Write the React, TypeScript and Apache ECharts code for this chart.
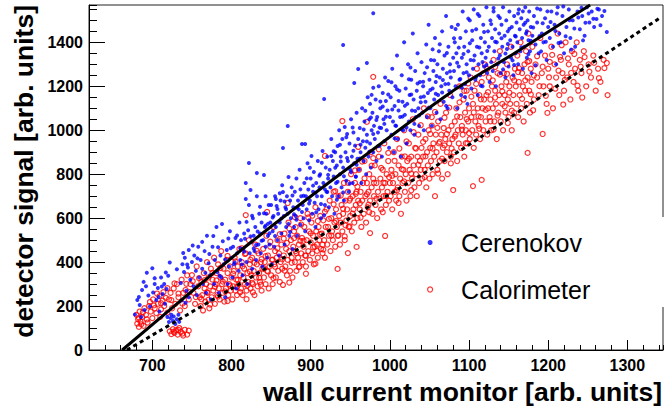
import React, { useEffect, useRef } from 'react';
import * as echarts from 'echarts';

// Cerenokov (blue, filled dots): [wall current monitor, detector signal]
const cerenokov: number[][] = [
  [678,162],[681,228],[683,241],[684,205],[686,150],[687,273],[689,310],[690,182],[692,290],[693,352],[695,248],[697,198],[700,372],[701,262],[703,300],[705,228],[707,282],[709,175],[711,330],[713,255],[715,300],[716,210],[718,278],[719,150],[720,338],
  [721,127],[723,145],[724,160],[726,132],[727,152],[729,118],[731,140],[733,160],[734,128],[736,305],[738,390],[740,355],[741,420],[743,270],[745,375],[746,455],[748,320],[750,400],[752,290],[753,430],[755,360],[756,250],[758,470],[759,330],[737,225],[742,215],[746,240],
  [761,410],[763,370],[764,300],[766,450],[768,260],[769,520],[771,395],[773,340],[774,230],[776,470],[778,300],[779,410],[781,560],[782,355],[784,260],[786,430],[787,330],[789,495],[790,390],[792,240],[794,455],[795,300],[797,380],[798,540],[800,420],
  [801,330],[802,470],[803,390],[805,510],[806,280],[807,440],[809,360],[810,580],[811,410],[812,500],[814,340],[815,460],[816,530],[818,687],[818,760],[819,400],[820,300],[821,545],[822,660],[822,851],[823,440],[824,728],[825,490],[826,370],[827,600],[828,520],[829,450],[830,560],[831,410],[832,700],[832,805],[833,350],[834,480],[835,620],[836,530],[837,440],[838,580],[839,380],[840,500],[841,796],[843,700],[843,470],
  [842,560],[844,620],[845,420],[846,520],[847,660],[848,480],[849,580],[850,660],[851,390],[852,540],[853,610],[854,470],[855,700],[856,560],[857,655],[858,500],[859,620],[860,430],[861,580],[862,680],[863,530],[864,750],[865,919],[865,719],[866,610],[867,480],[868,650],[869,560],[870,700],[871,1019],[871,620],[872,787],[873,520],[874,680],[875,600],[876,740],[877,460],[878,650],[879,560],[880,720],
  [881,610],[882,780],[883,520],[884,680],[885,640],[886,820],[887,570],[888,700],[889,937],[890,660],[891,600],[892,760],[893,937],[893,540],[894,700],[895,640],[896,850],[897,730],[898,590],[899,680],[900,780],[901,883],[902,620],[903,720],[904,810],[905,670],[906,560],[907,760],[908,700],[909,860],[910,640],[911,740],[912,800],[913,600],[914,700],[915,906],[916,760],[917,1142],[918,660],[919,830],[920,720],
  [921,880],[922,780],[923,650],[924,820],[925,740],[926,960],[927,700],[928,860],[929,790],[930,620],[931,900],[932,760],[933,840],[934,928],[935,700],[936,1000],[937,800],[938,880],[939,740],[940,960],[941,1388],[941,830],[942,680],[943,1015],[944,900],[945,770],[946,983],[947,860],[948,720],[949,940],[950,820],[951,1050],[952,880],[953,760],[954,990],[955,1215],[955,850],[956,930],[957,790],[958,1080],[959,870],[960,1279],[960,960],
  [961,820],[962,1010],[963,900],[964,760],[965,1100],[966,950],[967,860],[968,1040],[969,920],[970,800],[971,1306],[971,980],[972,1150],[973,880],[974,1050],[975,1120],[975,940],[976,830],[977,1000],[978,1080],[979,1532],[979,1193],[979,900],[980,1020],[981,960],[982,1140],[983,860],[984,1060],[985,990],[986,1200],[987,930],[988,1100],[989,1010],[990,880],[991,1170],[992,1050],[993,950],[994,1240],[995,1133],[996,1000],[997,1090],[998,1224],[999,920],[1000,1060],
  [1001,1150],[1002,980],[1003,1280],[1004,1040],[1005,900],[1006,1110],[1007,1200],[1008,1020],[1009,1340],[1010,960],[1011,1090],[1012,1180],[1013,1060],[1014,880],[1015,1250],[1016,1130],[1017,1000],[1018,1400],[1019,1070],[1020,1190],[1021,940],[1022,1120],[1023,1300],[1024,1040],[1025,1160],[1026,1000],[1027,1230],[1028,1090],[1029,1440],[1030,1140],[1031,980],[1032,1270],[1033,1060],[1034,1180],[1035,1350],[1036,1100],[1037,1020],[1038,1220],[1039,1150],[1040,1310],
  [1041,1080],[1042,1200],[1043,1000],[1044,1260],[1045,1130],[1046,1390],[1047,1060],[1048,1170],[1049,1480],[1050,1230],[1051,1100],[1052,1320],[1053,1020],[1053,491],[1054,1190],[1055,1270],[1056,1140],[1057,1420],[1058,1220],[1059,1080],[1060,1300],[1061,1160],[1062,1360],[1063,1240],[1064,1050],[1065,1200],[1066,1450],[1067,1280],[1068,1130],[1069,1340],[1070,1210],[1071,1520],[1072,1260],[1073,1100],[1074,1380],[1075,1180],[1076,1300],[1077,1240],[1078,1470],[1079,1150],[1080,1330],
  [1081,1270],[1082,1400],[1083,1200],[1084,1350],[1085,1100],[1086,1480],[1087,1290],[1088,1230],[1089,1420],[1090,1160],[1091,1330],[1092,1540],[1093,1260],[1094,1380],[1095,1210],[1096,1450],[1097,1300],[1098,1120],[1099,1360],[1100,1250],[1101,1500],[1102,1320],[1103,1190],[1104,1410],[1105,1280],[1106,1550],[1107,1340],[1108,1230],[1109,1460],[1110,1380],[1111,1160],[1112,1300],[1113,1520],[1114,1250],[1115,1420],[1116,1350],[1117,1200],[1118,1480],[1119,1290],[1120,1400],
  [1121,1330],[1122,1560],[1123,1260],[1124,1450],[1125,1380],[1126,1220],[1127,1500],[1128,1310],[1129,1420],[1130,1270],[1131,1540],[1132,1360],[1133,1460],[1134,1200],[1135,1400],[1136,1300],[1137,1520],[1138,1440],[1139,1340],[1140,1260],[1141,1480],[1142,1380],[1143,1560],[1144,1310],[1145,1430],[1146,1240],[1147,1500],[1148,1370],[1149,1450],[1150,1290],[1151,1540],[1152,1410],[1153,1330],[1154,1470],[1155,1380],[1156,1250],[1157,1520],[1158,1430],[1159,1350],[1160,1490],
  [1161,1400],[1162,1300],[1163,1550],[1164,1460],[1165,1360],[1166,1510],[1167,1420],[1168,1280],[1169,1480],[1170,1380],[1171,1560],[1172,1440],[1173,1330],[1174,1500],[1175,1410],[1176,1540],[1177,1360],[1178,1470],[1179,1260],[1180,1430],[1182,1520],[1184,1390],[1186,1490],[1188,1350],[1190,1550],[1192,1440],[1194,1400],[1196,1510],[1198,1320],[1200,1470],
  [1202,1420],[1204,1540],[1206,1380],[1208,1480],[1210,1300],[1212,1560],[1214,1440],[1216,1400],[1218,1520],[1220,1350],[1223,1470],[1226,1550],[1228,1420],[1231,1500],[1234,1380],[1237,1540],[1240,1460],[1243,1520],[1246,1430],[1249,1560],[1252,1490],[1255,1540],[1258,1470],[1261,1506],[1264,1550],[1268,1520],[1274,1447],
  [804,398],[811,463],[807,521],[816,447],[813,389],[824,517],[819,583],[828,462],[833,539],[826,611],[838,497],[843,566],[836,652],[848,531],[852,603],[846,574],[858,642],[855,519],[863,598],[867,676],[861,713],[872,574],[869,641],[877,703],[874,537],[879,618],[856,687],[841,622],[831,478],[817,506],
  [883,647],[887,731],[882,593],[891,702],[895,781],[889,628],[898,667],[903,748],[899,829],[907,627],[911,793],[906,716],[914,852],[918,731],[913,664],[922,797],[926,883],[921,719],[931,829],[934,766],[929,904],[938,858],[942,791],[937,934],[946,874],[951,809],[945,968],[954,907],[958,843],[953,1013],[917,613],[933,684],[949,757],[957,788],[941,717],
  [963,934],[967,1003],[962,871],[971,949],[976,1058],[969,1089],[979,983],[983,1047],[977,1161],[987,1012],[991,1108],[985,927],[995,1061],[998,1163],[993,1029],[1003,1094],[1007,1021],[1002,1218],[1011,1133],[1016,1062],[1009,1187],[1019,1111],[1024,1232],[1015,1004],[1027,1163],[1032,1088],[1026,1286],[1035,1213],[1039,1127],[1031,1029],[974,902],[988,1131],[1006,963],[1021,1013],[1037,1067],
  [1043,1154],[1047,1287],[1042,1221],[1051,1183],[1056,1318],[1049,1103],[1059,1247],[1063,1391],[1058,1166],[1067,1229],[1072,1352],[1066,1172],[1076,1268],[1081,1419],[1074,1211],[1085,1307],[1089,1233],[1083,1461],[1093,1347],[1097,1264],[1091,1193],[1101,1396],[1106,1318],[1099,1508],[1109,1242],[1113,1377],[1104,1453],[1117,1311],[1111,1529],[1119,1447],[1054,1368],[1071,1111],[1087,1376],[1095,1151],[1115,1203],
  [1123,1361],[1128,1483],[1122,1297],[1133,1403],[1137,1327],[1131,1556],[1141,1419],[1146,1349],[1139,1511],[1151,1462],[1155,1318],[1149,1393],[1162,1531],[1159,1427],[1166,1378],[1171,1489],[1168,1541],[1175,1346],[1181,1468],[1178,1407],[1186,1554],[1189,1429],[1184,1296],[1193,1487],[1197,1403],[1143,1277],[1157,1297],[1173,1451],[1191,1359],[1199,1541],
  [1203,1493],[1209,1452],[1213,1397],[1219,1563],[1222,1428],[1227,1501],[1233,1463],[1238,1513],[1242,1558],[1247,1489],[1251,1531],[1257,1507],[1262,1553],[1266,1478],[1271,1543],[1211,1531],[1229,1367],[1244,1409],
  [703,327],[712,289],[708,241],[717,353],[722,398],[731,367],[739,441],[744,389],[751,476],[757,417],[763,492],[767,351],[772,437],[777,519],[783,468],[788,573],[792,412],[796,507],[799,463],[785,338]
];

// Calorimeter (red, open circles)
const calorimeter: number[][] = [
  [680,160],[681,120],[682,140],[683,105],[684,175],[685,130],[687,150],[689,110],[690,190],[692,160],[694,125],[696,200],[698,175],[700,145],[701,230],[703,190],[705,168],[707,210],[709,245],[711,185],[713,225],[715,200],[717,237],[719,170],
  [722,85],[724,72],[726,95],[728,78],[730,90],[732,70],[734,100],[736,82],[738,75],[741,92],[744,70],[746,88],
  [721,230],[723,260],[725,190],[727,280],[729,210],[731,300],[733,240],[735,180],[737,320],[739,260],[741,200],[742,273],[744,340],[746,230],[748,300],[750,341],[752,260],[754,210],[756,380],[758,290],[760,240],
  [761,200],[762,310],[763,250],[764,180],[765,350],[766,280],[767,220],[768,300],[769,400],[770,260],[771,330],[772,190],[773,290],[774,370],[775,240],[776,320],[777,270],[778,420],[779,210],[780,300],[781,350],[782,250],[783,390],[784,280],[785,230],[786,330],[787,450],[788,300],[789,260],[790,370],[791,220],[792,320],[793,280],[794,410],[795,350],[796,250],[797,300],[798,380],[799,270],[800,330],
  [801,230],[802,290],[803,360],[804,420],[805,270],[806,320],[807,250],[808,380],[809,300],[810,460],[811,340],[812,280],[813,400],[814,250],[815,330],[816,370],[817,300],[818,614],[818,440],[819,270],[820,350],[821,310],[822,500],[823,390],[824,280],[825,340],[826,420],[827,300],[828,360],[829,250],[830,480],[831,330],[832,390],[833,290],[834,440],[835,350],[836,310],[837,400],[838,270],[839,370],[840,460],
  [841,330],[842,400],[843,300],[844,520],[845,360],[845,628],[846,430],[847,280],[848,380],[849,470],[850,340],[851,410],[852,300],[853,560],[854,390],[855,450],[856,330],[857,420],[858,500],[859,360],[860,440],[861,310],[862,400],[863,480],[864,370],[865,296],[866,430],[867,530],[868,380],[869,460],[870,340],[871,410],[871,669],[872,580],[873,450],[874,360],[875,500],[876,420],[877,330],[878,470],[879,540],[880,400],[880,605],
  [881,450],[882,360],[883,520],[884,420],[885,480],[886,380],[887,600],[888,440],[889,510],[890,400],[891,470],[892,560],[893,430],[894,380],[895,500],[896,620],[897,450],[898,540],[899,410],[900,490],[901,580],[902,440],[903,520],[904,390],[905,470],[906,650],[907,540],[908,480],[909,420],[910,560],[911,500],[912,610],[913,460],[914,530],[915,440],[916,590],[917,500],[918,883],[918,420],[919,560],[920,640],
  [921,480],[922,560],[923,520],[924,680],[925,450],[926,600],[927,540],[928,500],[929,720],[930,580],[931,470],[932,640],[933,560],[934,369],[934,520],[935,700],[936,610],[937,480],[938,580],[939,660],[940,1042],[940,540],[941,620],[942,760],[943,500],[944,680],[945,590],[946,640],[947,441],[947,720],[948,560],[949,680],[950,610],[951,800],[952,540],[953,700],[954,640],[955,580],[956,760],[957,660],[958,469],[958,720],[959,600],[960,680],[960,924],
  [961,820],[962,640],[963,720],[964,560],[965,680],[966,760],[967,620],[968,860],[969,700],[970,580],[971,1038],[971,760],[972,650],[973,720],[974,800],[975,532],[975,680],[976,900],[977,740],[978,620],[979,1243],[979,780],[980,700],[981,840],[982,660],[983,760],[984,600],[985,720],[986,880],[987,690],[988,780],[989,640],[990,740],[991,820],[992,700],[993,940],[994,519],[994,760],[995,660],[996,800],[997,720],[998,860],[999,680],[1000,760],
  [1001,700],[1002,820],[1003,640],[1004,760],[1005,900],[1006,720],[1007,800],[1008,680],[1009,960],[1010,740],[1011,840],[1012,700],[1013,780],[1014,620],[1015,880],[1016,760],[1017,820],[1018,1000],[1019,720],[1020,800],[1021,680],[1022,860],[1023,760],[1024,940],[1025,820],[1026,700],[1027,880],[1028,780],[1029,1050],[1030,840],[1031,740],[1032,920],[1033,800],[1034,700],[1035,880],[1036,980],[1037,760],[1038,860],[1039,820],[1040,920],
  [1041,780],[1042,880],[1043,1100],[1044,820],[1045,960],[1046,740],[1047,900],[1048,840],[1049,1000],[1050,780],[1051,920],[1052,860],[1053,1060],[1054,800],[1055,940],[1056,880],[1057,700],[1058,980],[1059,900],[1060,820],[1061,1040],[1062,940],[1063,860],[1064,1120],[1065,980],[1066,780],[1067,920],[1068,1010],[1069,860],[1070,960],[1071,1080],[1072,900],[1073,800],[1074,1000],[1075,940],[1076,1160],[1077,880],[1078,1020],[1079,960],[1080,728],
  [1081,900],[1082,1040],[1083,980],[1084,1100],[1085,860],[1086,1000],[1087,940],[1088,1200],[1089,1060],[1090,920],[1091,1020],[1092,980],[1093,1140],[1094,880],[1095,1080],[1096,1000],[1097,1180],[1098,940],[1099,1040],[1100,1100],[1101,960],[1102,1240],[1103,1060],[1104,1000],[1105,746],[1105,1120],[1106,920],[1107,1180],[1108,1040],[1109,980],[1110,1280],[1111,1100],[1112,1020],[1113,1160],[1114,960],[1115,1060],[1116,774],[1116,1220],[1117,1100],[1118,1000],[1119,1140],[1120,1300],
  [1121,1040],[1122,1160],[1123,980],[1124,1100],[1125,1240],[1126,1060],[1127,1140],[1128,1000],[1129,1200],[1130,1100],[1131,1320],[1132,1040],[1133,1180],[1133,1288],[1134,1120],[1135,960],[1136,1260],[1137,1080],[1138,1160],[1139,1360],[1140,1040],[1141,1200],[1142,1120],[1143,1000],[1144,1260],[1145,1160],[1146,1080],[1147,1220],[1148,1300],[1149,1140],[1150,1060],[1151,1200],[1152,1120],[1153,1380],[1154,1000],[1155,1240],[1156,1160],[1157,1080],[1158,1280],[1159,1200],[1160,1120],
  [1161,1340],[1162,1060],[1162,1265],[1163,1220],[1164,1160],[1165,1400],[1166,1100],[1167,1260],[1168,1200],[1169,1040],[1170,1300],[1171,1180],[1172,1360],[1173,1120],[1174,897],[1174,1240],[1175,1440],[1176,1180],[1176,1315],[1177,1080],[1178,1280],[1179,1220],[1180,1380],[1182,1140],[1184,1300],[1186,1240],[1188,1160],[1190,1420],[1192,1260],[1193,983],[1194,1200],[1196,1340],[1198,1120],[1200,1280],
  [1202,1200],[1202,1311],[1204,1380],[1206,1100],[1208,1300],[1210,1240],[1212,1440],[1214,1160],[1215,1334],[1216,1320],[1218,1260],[1220,1180],[1222,1400],[1224,1240],[1226,1300],[1228,1140],[1230,1360],[1232,1220],[1234,1280],[1236,1400],[1238,1180],[1240,1320],[1242,1260],[1245,1360],[1248,1200],[1251,1300],[1254,1240],[1257,1340],[1260,1180],[1263,1280],[1266,1220],[1270,1320],[1274,1306],[1275,1160],
  [762,231],[766,318],[769,263],[773,207],[776,351],[779,287],[783,243],[786,373],[789,311],[792,267],[795,428],[798,293],[802,347],[805,403],[808,319],[811,263],[814,381],[817,437],[820,293],[823,357],[826,306],[829,397],[832,451],[835,329],[838,413],[841,372],[819,231],[807,287],[795,223],[781,317],[771,229],[813,463],[827,263],[837,297],[824,411],
  [843,427],[846,357],[849,493],[852,411],[855,379],[858,463],[861,527],[864,413],[867,361],[870,487],[873,553],[876,397],[879,509],[882,441],[885,377],[888,571],[891,497],[894,429],[897,603],[900,531],[903,467],[906,393],[909,587],[912,527],[915,479],[918,629],[853,327],[866,507],[881,559],[894,347],[908,451],[873,307],[887,497],[902,611],[916,457],
  [923,597],[926,521],[929,663],[932,587],[935,521],[938,703],[941,643],[944,567],[947,761],[950,689],[953,621],[956,817],[959,743],[962,667],[965,857],[968,781],[971,709],[974,627],[977,839],[980,761],[983,689],[986,913],[989,829],[992,761],[995,701],[998,897],[931,723],[949,563],[963,603],[979,873],[991,627],[999,787],[943,517],[957,711],[973,661],
  [1003,793],[1006,861],[1009,727],[1012,917],[1015,823],[1018,767],[1021,949],[1024,871],[1027,803],[1030,991],[1033,917],[1036,843],[1039,1023],[1042,947],[1045,881],[1048,1063],[1051,983],[1054,917],[1057,1083],[1060,1011],[1063,947],[1066,871],[1069,1057],[1072,983],[1075,1103],[1078,917],[1011,669],[1027,727],[1044,787],[1061,803],[1077,849],[1019,881],[1053,1021],[1069,931],
  [1082,971],[1085,1063],[1088,1127],[1091,1003],[1094,1179],[1097,1051],[1100,987],[1103,1153],[1106,1081],[1109,1211],[1112,1063],[1115,1141],[1118,1259],[1121,1093],[1124,1173],[1127,1041],[1130,1227],[1133,1149],[1136,1067],[1139,1253],[1142,1177],[1145,1109],[1148,1257],[1151,1171],[1154,1089],[1157,1227],[1096,941],[1113,1007],[1131,1003],[1149,1033],[1099,1213],[1123,1279],
  [1163,1283],[1167,1143],[1171,1227],[1174,1311],[1178,1163],[1182,1249],[1186,1337],[1189,1201],[1193,1289],[1197,1157],[1201,1241],[1205,1343],[1209,1189],[1213,1271],[1217,1387],[1221,1229],[1225,1327],[1229,1261],[1233,1347],[1237,1203],[1241,1289],[1246,1333],[1252,1267],[1258,1307],[1264,1237],[1271,1283],[1181,1091],[1199,1079],[1219,1117],[1243,1149],
  [683,147],[688,171],[693,139],[697,219],[702,203],[706,257],[711,213],[714,263],[719,281],[724,227],[728,303],[733,257],[738,211],[743,301],[747,263],[751,313],[755,241],[759,327],[727,83],[733,91],[739,66],[686,117],[710,151]
];

// Fit curves
const cerenokovFit: number[][] = [[662,0],[760,298],[823,486],[950,835],[1076,1170],[1158,1352],[1253,1570]];
const calorimeterFit: number[][] = [[668,0],[823,328],[950,601],[1076,878],[1215,1210],[1341,1511]];

const xRange = [620, 1345];
const yRange = [0, 1570];
const seriesNames = ['Cerenokov', 'Calorimeter'];
const xTitle = 'wall current monitor [arb. units]';
const yTitle = 'detector signal [arb. units]';

export default function App() {
  const ref = useRef<HTMLDivElement>(null);
  useEffect(() => {
    document.body.style.margin = '0';
    const chart = echarts.init(ref.current!, null, { renderer: 'svg', width: 665, height: 409 });
    const font = '"Liberation Sans", Arial, Helvetica, sans-serif';
    const plain = (v: number) => String(v);
    const axisCommon = {
      type: 'value',
      splitLine: { show: false },
    };
    chart.setOption({
      animation: false,
      backgroundColor: '#ffffff',
      textStyle: { fontFamily: font },
      grid: {
        left: 89, top: 5, right: 2, bottom: 59, containLabel: false, outerBoundsMode: 'none',
        show: true, borderColor: '#222', borderWidth: 1, backgroundColor: 'transparent',
      },
      graphic: [
        {
          type: 'text', right: 3, top: 378, z: 10,
          style: { text: xTitle, fill: '#000', font: 'bold 26.5px "Liberation Sans", Arial, Helvetica, sans-serif' },
        },
      ],
      xAxis: [
        {
          ...axisCommon,
          min: xRange[0], max: xRange[1], minInterval: 100, maxInterval: 100, position: 'bottom',
          axisLine: { show: true, lineStyle: { color: '#000', width: 1 } },
          axisTick: { show: true, inside: true, length: 10, lineStyle: { color: '#000', width: 1 } },
          axisLabel: { show: true, showMinLabel: false, showMaxLabel: false, hideOverlap: false, formatter: plain, color: '#000', fontSize: 16, fontWeight: 'bold', fontFamily: font, margin: 7 },
        },
        {
          ...axisCommon,
          min: xRange[0], max: xRange[1], interval: 20, position: 'bottom',
          axisLine: { show: false }, axisLabel: { show: false },
          axisTick: { show: true, inside: true, length: 5, lineStyle: { color: '#000', width: 1 } },
        },
      ],
      yAxis: [
        {
          ...axisCommon,
          min: yRange[0], max: yRange[1], interval: 200, position: 'left',
          axisLine: { show: true, lineStyle: { color: '#000', width: 1 } },
          axisTick: { show: true, inside: true, length: 16, lineStyle: { color: '#000', width: 1 } },
          axisLabel: { show: true, showMaxLabel: false, formatter: plain, color: '#000', fontSize: 16, fontWeight: 'bold', fontFamily: font, margin: 6 },
          name: yTitle, nameLocation: 'end', nameGap: 0, nameRotate: 90,
          nameTextStyle: { fontSize: 26.5, fontWeight: 'bold', color: '#000', fontFamily: font, align: 'right', verticalAlign: 'bottom', padding: [0, 0, 52, 0] },
        },
        {
          ...axisCommon,
          min: yRange[0], max: yRange[1], interval: 50, position: 'left',
          axisLine: { show: false }, axisLabel: { show: false },
          axisTick: { show: true, inside: true, length: 8, lineStyle: { color: '#000', width: 1 } },
        },
      ],
      legend: {
        orient: 'vertical', left: 427, top: 217, backgroundColor: '#ffffff',
        padding: [13, 80, 5, 0], itemWidth: 24, itemHeight: 5, itemGap: 22,
        textStyle: { fontSize: 25, color: '#000', fontFamily: font, padding: [0, 0, 0, 14] },
        data: [
          { name: seriesNames[0], itemStyle: { color: '#0000ff', borderWidth: 0 } },
          { name: seriesNames[1], itemStyle: { color: 'rgba(255,0,0,0)', borderColor: '#ff0000', borderWidth: 1.2 } },
        ],
      },
      series: [
        {
          name: seriesNames[1], type: 'scatter', xAxisIndex: 0, yAxisIndex: 0, data: calorimeter,
          symbol: 'circle', symbolSize: 5,
          itemStyle: { color: 'rgba(255,0,0,0)', borderColor: '#ff0000', borderWidth: 1.2 },
          silent: true, z: 2,
        },
        {
          name: seriesNames[0], type: 'scatter', xAxisIndex: 0, yAxisIndex: 0, data: cerenokov,
          symbol: 'circle', symbolSize: 4,
          itemStyle: { color: '#0000ff' },
          silent: true, z: 2,
        },
        {
          name: 'Cerenokov fit', type: 'line', xAxisIndex: 0, yAxisIndex: 0, data: cerenokovFit,
          showSymbol: false, smooth: 0.3, clip: true,
          lineStyle: { color: '#000', width: 3 }, silent: true, z: 3,
        },
        {
          name: 'Calorimeter fit', type: 'line', xAxisIndex: 0, yAxisIndex: 0, data: calorimeterFit,
          showSymbol: false, smooth: 0.3, clip: true,
          lineStyle: { color: '#000', width: 3, type: [4, 3.5] }, silent: true, z: 3,
        },
      ],
    });
    return () => chart.dispose();
  }, []);
  return <div ref={ref} style={{ width: 665, height: 409, position: 'fixed', left: 0, top: 0 }} />;
}
